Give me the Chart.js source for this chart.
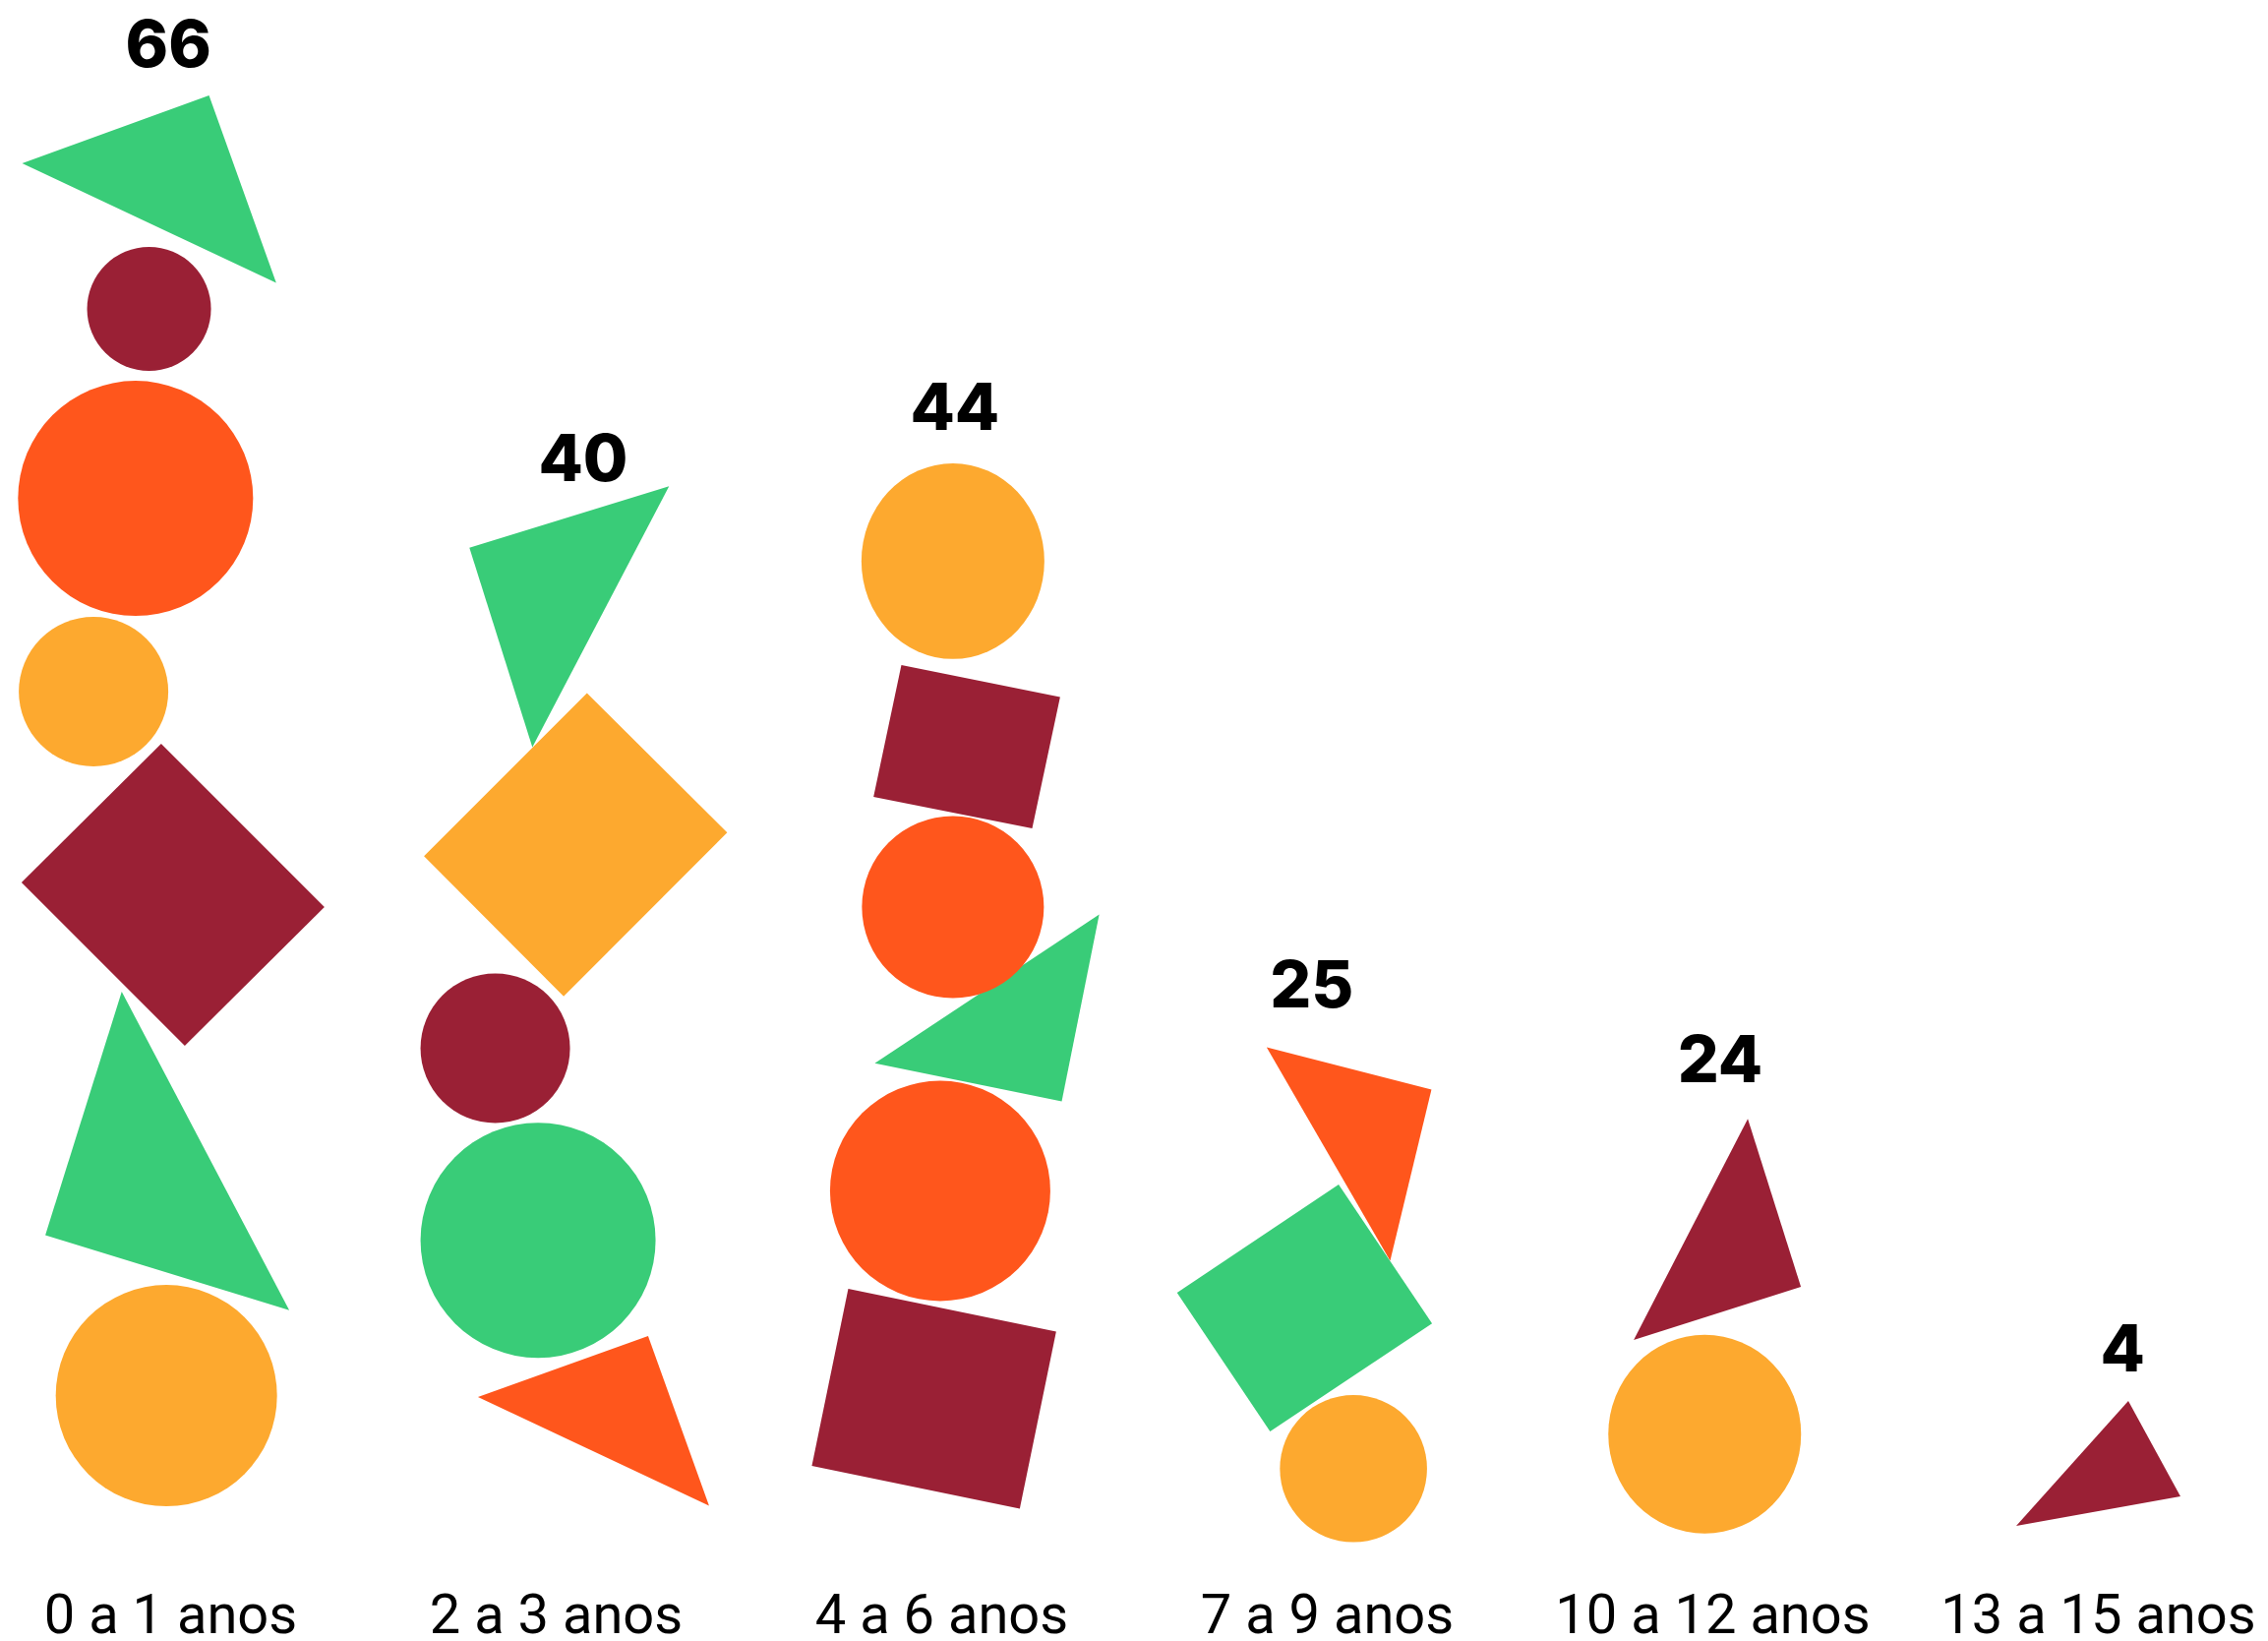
<!DOCTYPE html>
<html>
<head>
<meta charset="utf-8">
<script src="https://cdn.jsdelivr.net/npm/chart.js@4.4.1/dist/chart.umd.min.js"></script>
<style>
  html, body { margin: 0; padding: 0; background: #fff; }
  #wrap { width: 2306px; height: 1668px; }
</style>
</head>
<body>
<div id="wrap"><canvas id="chart"></canvas></div>
<script>
const categories = ['0 a 1 anos', '2 a 3 anos', '4 a 6 anos', '7 a 9 anos', '10 a 12 anos', '13 a 15 anos'];
const values = [66, 40, 44, 25, 24, 4];

const GREEN = '#39CC78', MAROON = '#9A2035', ORANGE = '#FF561C', YELLOW = '#FDA92F';

// pictogram pieces: cat + dx on the x axis, y above the baseline,
// outline (poly / ellipse) in px around that point
const pieces = [
  // 0 a 1 anos
  { cat: 0, dx: -0.004, y: 1384.5, fill: GREEN,  poly: [[-149.4, -17.5], [40.6, -86.5], [108.9, 104]] },
  { cat: 0, dx: -0.056, y: 1254,   fill: MAROON, ellipse: [63, 63] },
  { cat: 0, dx: -0.091, y: 1061.4, fill: ORANGE, ellipse: [119.5, 119.5] },
  { cat: 0, dx: -0.200, y: 865,    fill: YELLOW, ellipse: [76, 76] },
  { cat: 0, dx: 0.006,  y: 658.5,  fill: MAROON, poly: [[-12, -153.5], [154, 12.5], [12, 153.5], [-154, -12.5]] },
  { cat: 0, dx: -0.048, y: 369.6,  fill: GREEN,  poly: [[-30.9, -190.4], [139.4, 133.3], [-108.6, 57.1]] },
  { cat: 0, dx: -0.011, y: 149.4,  fill: YELLOW, ellipse: [112.5, 112.5] },
  // 2 a 3 anos
  { cat: 1, dx: 0.002,  y: 964.5,  fill: GREEN,  poly: [[-89, -46.8], [114, -109.3], [-25, 156.1]] },
  { cat: 1, dx: 0.050,  y: 709.6,  fill: YELLOW, poly: [[11.7, -154], [154.3, -12.2], [-12, 154.3], [-154, 11.8]] },
  { cat: 1, dx: -0.158, y: 502.5,  fill: MAROON, ellipse: [76, 76] },
  { cat: 1, dx: -0.047, y: 307.3,  fill: GREEN,  ellipse: [119.5, 119.5] },
  { cat: 1, dx: 0.144,  y: 131.8,  fill: ORANGE, poly: [[-136, -16.2], [37, -78.2], [99, 94.3]] },
  // 4 a 6 anos
  { cat: 2, dx: 0.029,  y: 997.6,  fill: YELLOW, ellipse: [93, 99.4] },
  { cat: 2, dx: 0.065,  y: 808.9,  fill: MAROON, poly: [[-66.5, -83.2], [94.9, -50.6], [66.5, 82.9], [-94.8, 50.9]] },
  { cat: 2, dx: 0.182,  y: 524.8,  fill: GREEN,  poly: [[-139.4, 37.5], [88.8, -113.7], [50.7, 76.2]] },
  { cat: 2, dx: 0.029,  y: 646,    fill: ORANGE, ellipse: [92.5, 92.5] },
  { cat: 2, dx: -0.004, y: 357.5,  fill: ORANGE, ellipse: [112, 112] },
  { cat: 2, dx: -0.020, y: 146.2,  fill: MAROON, poly: [[-87.2, -111.8], [124.2, -68.2], [87.2, 111.7], [-124.2, 68.2]] },
  // 7 a 9 anos
  { cat: 3, dx: 0.092,  y: 416.8,  fill: ORANGE, poly: [[-97.7, -86.7], [69.9, -43.7], [27.9, 130.3]] },
  { cat: 3, dx: -0.059, y: 238.4,  fill: GREEN,  poly: [[34.7, -125.6], [129.7, 15.7], [-35, 125.4], [-129.6, -15.6]] },
  { cat: 3, dx: 0.068,  y: 75.2,   fill: YELLOW, ellipse: [74.8, 74.8] },
  // 10 a 12 anos
  { cat: 4, dx: 0.038,  y: 298.9,  fill: MAROON, poly: [[20.7, -131.8], [74.7, 38.9], [-95.3, 92.9]] },
  { cat: 4, dx: -0.021, y: 110.2,  fill: YELLOW, ellipse: [98, 101] },
  // 13 a 15 anos
  { cat: 5, dx: 0.026,  y: 69.3,   fill: MAROON, poly: [[20.3, -74.7], [73.3, 22.3], [-93.7, 52.3]] }
];

// where each count is written (axis units)
const labelDx = [-0.006, 0.070, 0.034, -0.040, 0.019, 0.063];
const labelY = [1500, 1079, 1131, 544, 468, 174];

const pictogram = {
  id: 'pictogram',
  afterDatasetsDraw(chart) {
    const ctx = chart.ctx;
    const meta = chart.getDatasetMeta(0);
    meta.data.forEach((pt, i) => {
      const p = pieces[i];
      ctx.save();
      ctx.fillStyle = p.fill;
      ctx.beginPath();
      if (p.ellipse) {
        ctx.ellipse(pt.x, pt.y, p.ellipse[0], p.ellipse[1], 0, 0, Math.PI * 2);
      } else {
        p.poly.forEach(([dx, dy], k) => k ? ctx.lineTo(pt.x + dx, pt.y + dy) : ctx.moveTo(pt.x + dx, pt.y + dy));
      }
      ctx.closePath();
      ctx.fill();
      ctx.restore();
    });

    // totals on top of every stack
    const xs = chart.scales.x, ys = chart.scales.y;
    ctx.save();
    ctx.font = '800 66px Inter';
    ctx.fillStyle = '#000';
    ctx.textAlign = 'center';
    ctx.textBaseline = 'alphabetic';
    values.forEach((v, i) => {
      ctx.fillText(String(v), xs.getPixelForValue(i + labelDx[i]), ys.getPixelForValue(labelY[i]));
    });
    ctx.restore();
  }
};

new Chart(document.getElementById('chart'), {
  type: 'scatter',
  data: {
    datasets: [{
      data: pieces.map(p => ({ x: p.cat + p.dx, y: p.y })),
      pointRadius: 0,
      pointHoverRadius: 0
    }]
  },
  options: {
    responsive: true,
    maintainAspectRatio: false,
    animation: false,
    events: [],
    layout: { padding: 0 },
    plugins: { legend: { display: false }, tooltip: { enabled: false } },
    scales: {
      x: {
        type: 'linear',
        min: -0.4426,
        max: 5.4401,
        // invisible tick marks only push the labels down
        grid: { display: false, drawTicks: true, tickLength: 44 },
        border: { display: false },
        afterBuildTicks: s => { s.ticks = categories.map((c, i) => ({ value: i })); },
        afterFit: s => { s.height = 100; },
        ticks: {
          callback: v => categories[v],
          autoSkip: false,
          maxRotation: 0,
          padding: 0,
          color: '#000',
          font: { family: 'Roboto', size: 56 }
        }
      },
      y: { type: 'linear', min: 0, max: 1568, display: false }
    }
  },
  plugins: [pictogram]
});
</script>
</body>
</html>
